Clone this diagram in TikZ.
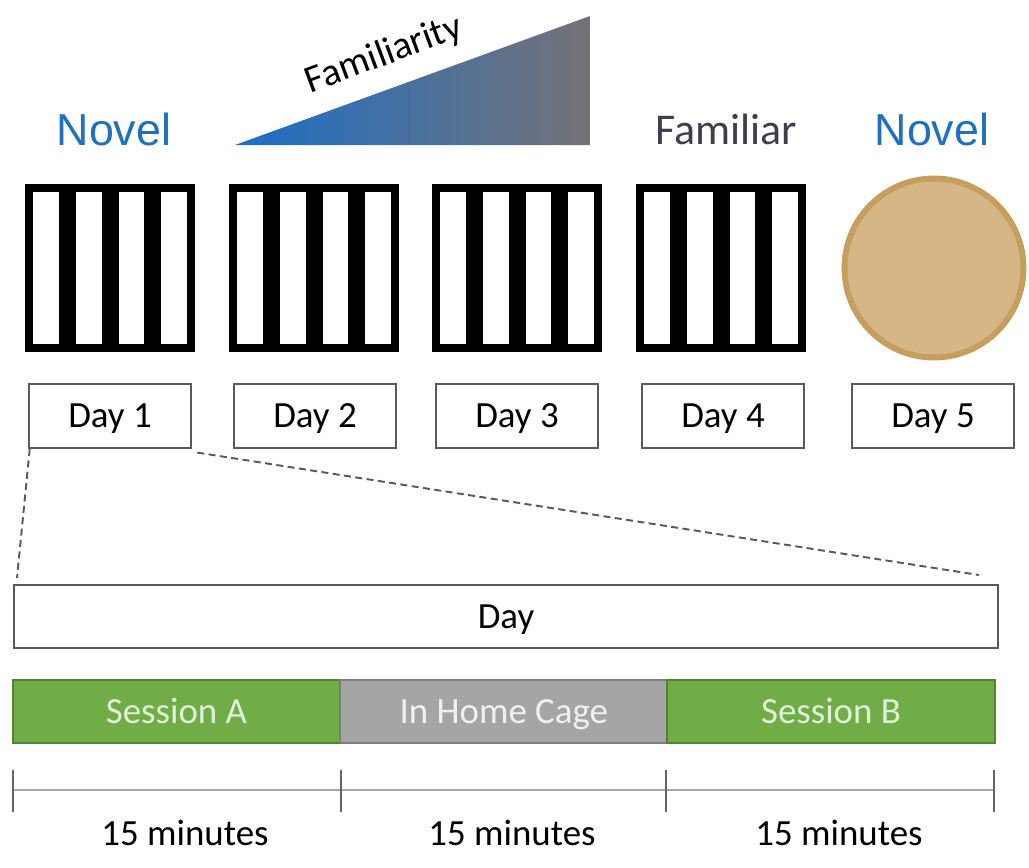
\documentclass[tikz,border=0pt]{standalone}
\usepackage{fontspec}
\setmainfont{Carlito}
\newfontfamily\arialfont{Liberation Sans}
\usepackage{tikz}
\usetikzlibrary{positioning}

\definecolor{novelblue}{RGB}{31,112,190}
\definecolor{familiargray}{RGB}{62,62,78}
\definecolor{rampblue}{RGB}{28,110,198}
\definecolor{rampgray}{RGB}{118,114,118}
\definecolor{boxgray}{RGB}{89,89,89}
\definecolor{sessiongreen}{RGB}{112,173,71}
\definecolor{sessionedge}{RGB}{84,128,54}
\definecolor{sessiontext}{RGB}{226,240,217}
\definecolor{cagegray}{RGB}{165,165,165}
\definecolor{cageedge}{RGB}{125,125,125}
\definecolor{cagetext}{RGB}{240,240,240}
\definecolor{discfill}{RGB}{214,181,134}
\definecolor{discedge}{RGB}{198,158,94}

\begin{document}
\begin{tikzpicture}[
    x=0.02cm, y=-0.02cm,
    grating/.style={draw=black, line width=4.5pt, fill=white, minimum width=3.24cm, minimum height=3.2cm, inner sep=0pt, outer sep=0pt},
    daybox/.style={draw=boxgray, line width=1.2pt, fill=white, minimum width=3.24cm, minimum height=1.28cm, inner sep=0pt, text height=13.5pt, text depth=0pt, font=\fontsize{21}{25}\selectfont},
    bar/.style={line width=1.2pt, minimum width=6.547cm, minimum height=1.26cm, inner sep=0pt, outer sep=0pt, text height=13.5pt, text depth=0pt, font=\fontsize{21}{25}\selectfont},
    session/.style={bar, fill=sessiongreen, draw=sessionedge, text=sessiontext},
    homecage/.style={bar, fill=cagegray, draw=cageedge, text=cagetext},
    zoomline/.style={boxgray, line width=1.1pt, dash pattern=on 4pt off 2.5pt},
    timeline/.style={line width=1.3pt, black!35},
    tickmark/.style={line width=0.6pt, black!60},
    minutes/.style={font=\fontsize{21}{25}\selectfont},
    novel/.style={text=novelblue, font=\arialfont\fontsize{25.5}{30}\selectfont}
]
    \useasboundingbox (0,0) rectangle (1029,867);

    % Familiarity ramp
    \shade[left color=rampblue, right color=rampgray] (235,145) -- (590,145) -- (590,16) -- cycle;
    \node[rotate=20.4, font=\fontsize{22}{26}\selectfont] (familiarity) at (384,55) {Familiarity};

    % Headings above the stimuli
    \node[novel] (novel1) at (114,129) {Novel};
    \node[text=familiargray, font=\fontsize{25}{30}\selectfont] (familiar) at (726,129) {Familiar};
    \node[novel] (novel2) at (932,129) {Novel};

    % Gratings, days 1-4
    \foreach \i/\x in {1/110,2/314,3/517,4/721} {
        \node[grating] (stim\i) at (\x,268) {};
        \foreach \k in {-1,0,1}
            \fill (\x+\k*42.75-8.5,190) rectangle +(17,156);
    }

    % Novel object, day 5
    \node[circle, draw=discedge, line width=3.4pt, fill=discfill, minimum size=3.58cm, inner sep=0pt] (stim5) at (934,268) {};

    % Day labels
    \foreach \i/\x in {1/110,2/315,3/517,4/723,5/933}
        \node[daybox] (day\i) at (\x,416) {Day \i};

    % Zoom into one day
    \node[daybox, minimum width=19.68cm, minimum height=1.26cm] (day) at (506,616.5) {Day};
    \coordinate (zoomL) at (17,578);
    \coordinate (zoomR) at (979,575);
    \draw[zoomline] ([xshift=1pt]day1.south west) -- (zoomL);
    \draw[zoomline] ([xshift=3pt,yshift=-2pt]day1.south east) -- (zoomR);

    % Sessions
    \node[session] (sessionA) at (176.5,711.5) {Session A};
    \node[homecage, right=0pt of sessionA] (cage) {In Home Cage};
    \node[session, right=0pt of cage] (sessionB) {Session B};

    % Time axis
    \coordinate (t0) at (13,790);
    \coordinate (t1) at (341,790);
    \coordinate (t2) at (666,790);
    \coordinate (t3) at (994,790);
    \draw[timeline] (t0) -- (t3);
    \foreach \i in {0,...,3}
        \draw[tickmark] (t\i) ++(0,-20) -- ++(0,42);

    \node[minutes] (min1) at (185,833) {15 minutes};
    \node[minutes] (min2) at (512,833) {15 minutes};
    \node[minutes] (min3) at (839,833) {15 minutes};
\end{tikzpicture}
\end{document}
